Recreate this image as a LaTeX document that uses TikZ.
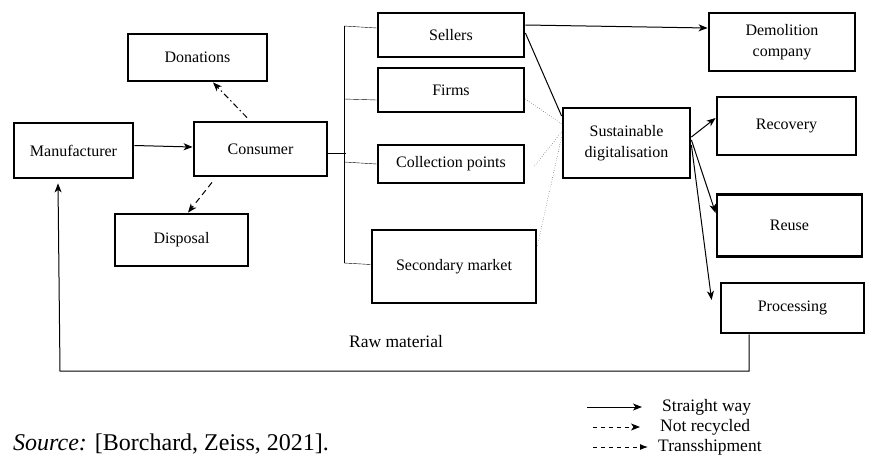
\documentclass[tikz,border=0pt]{standalone}
\usepackage{fontspec}
\setmainfont{Liberation Serif}
\usetikzlibrary{arrows,arrows.meta}

\begin{document}
\begin{tikzpicture}[
 x=1pt, y=-1pt,
 block/.style = {
    rectangle,
    draw=black,
    line width=2.8pt,
    inner sep=0pt,
    font=\fontsize{16}{21}\selectfont,
    align=center},
 note/.style = {
    inner sep=0pt,
    font=\fontsize{17.5}{21}\selectfont},
 link/.style = {line width=1pt},
 >={Stealth[length=9pt,width=7pt,inset=2.5pt]}
 ]
\useasboundingbox (0,0) rectangle (869,455);

\node(don)[block,minimum width=139pt,minimum height=47pt] at (197.5,57.5) {Donations};
\node(manuf)[block,minimum width=119pt,minimum height=55pt] at (73.5,150.5) {Manufacturer};
\node(cons)[block,minimum width=133pt,minimum height=54pt] at (260.5,149) {Consumer};
\node(disp)[block,minimum width=133pt,minimum height=52pt] at (181.5,240) {Disposal};
\node(sell)[block,minimum width=146pt,minimum height=44pt] at (451,35) {Sellers};
\node(firm)[block,minimum width=146pt,minimum height=44pt] at (451,90) {Firms};
\node(coll)[block,minimum width=146pt,minimum height=38pt] at (451,164) {Collection points};
\node(sec)[block,minimum width=164pt,minimum height=73pt] at (454,266.5) {Secondary market};
\node(sust)[block,minimum width=127pt,minimum height=70pt] at (626.5,143) {Sustainable\\digitalisation};
\node(demo)[block,minimum width=146pt,minimum height=58pt] at (782,42) {Demolition\\company};
\node(reco)[block,minimum width=139pt,minimum height=58pt] at (786.5,126) {Recovery};
\node(reus)[block,minimum width=145pt,minimum height=62pt] at (789.5,225.5) {Reuse};
\node(proc)[block,minimum width=143pt,minimum height=50pt] at (792.5,308) {Processing};

\draw[->,link] ([yshift=5pt]manuf.east) -- ([yshift=2pt]cons.west);
\draw[->,link,dash pattern=on 6pt off 3pt on 1.5pt off 3pt] ([xshift=-13.5pt,yshift=3pt]cons.north) -- ([xshift=15.5pt]don.south);
\draw[->,link,dash pattern=on 6pt off 4pt] ([xshift=-48.5pt,yshift=-5pt]cons.south) -- ([xshift=6.5pt]disp.north);

\coordinate (btop) at (344,26);
\coordinate (bbot) at (344,263);
\coordinate (bmid) at (346,153);
\draw (btop) -- (bbot);
\draw ([yshift=-4pt]cons.east) -- (bmid);
\draw (btop) -- ([yshift=7pt]sell.west);
\draw ([yshift=-9pt]firm.west -| btop) -- ([yshift=-10pt]firm.west);
\draw ([yshift=2pt]coll.west -| btop) -- (coll.west);
\draw (bbot) -- ([yshift=2pt]sec.west);

\draw[->,link] ([yshift=10pt]sell.east) -- ([yshift=14pt]demo.west);
\draw[link] ([yshift=2pt]sell.east) -- ([yshift=27pt]sust.west);
\draw[dotted,thin] ([yshift=-9pt]firm.east) -- ([xshift=3pt,yshift=17pt]sust.west);
\draw[dotted,thin] ([xshift=9pt,yshift=-2pt]coll.east) -- ([yshift=11pt]sust.west);
\draw[dotted,thin] ([yshift=21pt]sec.east) -- ([yshift=6pt]sust.west);

\draw[->,link] ([yshift=6pt]sust.east) -- ([yshift=8pt]reco.west);
\draw[->,link] ([yshift=3pt]sust.east) -- ([yshift=12.5pt]reus.west);
\draw[->,link] ([yshift=-2pt]sust.east) -- ([xshift=-8pt,yshift=8pt]proc.west);

\coordinate (rbr) at (749,371);
\coordinate (rbl) at (60,371);
\draw[->,link] ([xshift=-43.5pt]proc.south) -- (rbr) -- (rbl) -- ([xshift=-15.5pt,yshift=-4pt]manuf.south);
\node(raw)[note] at (396,342) {Raw material};

\node(lsw)[note,anchor=west] at (662,407) {Straight way};
\node(lnr)[note,anchor=west] at (660,427) {Not recycled};
\node(ltr)[note,anchor=west] at (658,447) {Transshipment};
\draw[->,link] ([xshift=-75pt]lsw.west) -- ([xshift=-20pt]lsw.west);
\draw[->,link,dash pattern=on 4pt off 4pt] ([xshift=-67pt]lnr.west) -- ([xshift=-20pt]lnr.west);
\draw[-{Latex[length=8pt,width=6pt]},link,dash pattern=on 4pt off 4pt] ([xshift=-65pt]ltr.west) -- ([xshift=-10pt]ltr.west);

\node(src)[anchor=west,inner sep=0pt,font=\fontsize{24}{28}\selectfont] at (13,444) {\textit{Source:} [Borchard, Zeiss, 2021].};

\end{tikzpicture}
\end{document}
